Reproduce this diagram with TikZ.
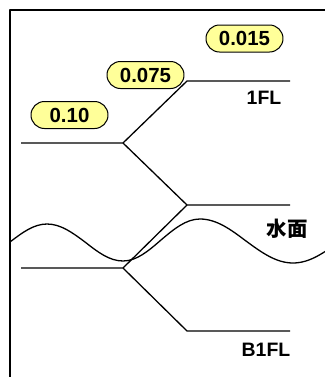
\documentclass[tikz,border=0pt]{standalone}
\usepackage{fontspec}
\setmainfont{Liberation Sans}
\newfontfamily\jpfont{Noto Sans CJK JP}
\usepackage{tikz}
\usetikzlibrary{shapes}

\definecolor{tagyellow}{RGB}{255,255,153}

\begin{document}
\begin{tikzpicture}[x=1bp, y=-1bp, line width=1.3bp, line join=round,
    tag/.style={draw, fill=tagyellow, rounded rectangle, line width=1bp,
      minimum width=77bp, minimum height=27bp, inner sep=0pt,
      font=\fontsize{20.5}{20.5}\selectfont\bfseries},
    floor/.style={inner sep=0pt, font=\fontsize{19.5}{19.5}\selectfont\bfseries}]
      \useasboundingbox (0,0) rectangle (325,377);

      % frame
      \draw[line width=2bp] (10,380) -- (10,10) -- (330,10);

      % water surface
      \begin{scope}
        \clip (10,0) rectangle (325,377);
        \draw (10,242) sin (47,224) cos (85,242) sin (123,261) cos (161,240)
          sin (200,219) cos (246,241) sin (293,263) cos (340,241);
      \end{scope}

      % flow points
      \coordinate (a1) at (21,143);
      \coordinate (j1) at (123,143);
      \coordinate (p1) at (187,81);
      \coordinate (e1) at (290,81);
      \coordinate (p2) at (187,205);
      \coordinate (e2) at (290,205);
      \coordinate (a2) at (21,268);
      \coordinate (j2) at (123,268);
      \coordinate (p3) at (187,331);
      \coordinate (e3) at (290,331);

      \draw (a1) -- (j1) -- (p1) -- (e1);
      \draw (j1) -- (p2) -- (e2);
      \draw (a2) -- (j2) -- (p2);
      \draw (j2) -- (p3) -- (e3);

      % values
      \node[tag] (t1) at (69.5,115) {0.10};
      \node[tag] (t2) at (145.5,75) {0.075};
      \node[tag] (t3) at (244.5,38.5) {0.015};

      % labels
      \node[floor] (f1) at (264,98) {1FL};
      \node[floor, font=\fontsize{20.5}{20.5}\jpfont\bfseries] (w) at (287,229) {水面};
      \node[floor] (f2) at (266,350) {B1FL};
\end{tikzpicture}
\end{document}
